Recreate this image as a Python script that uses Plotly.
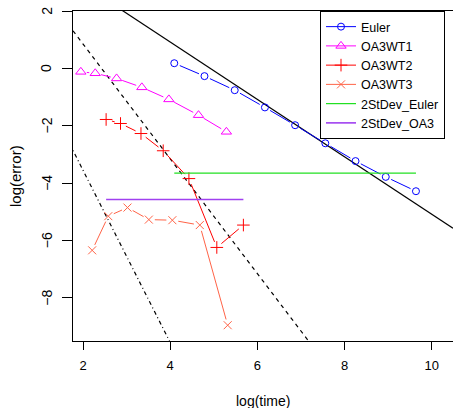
import math
import plotly.graph_objects as go

# ---- data ----
euler_x = [4.094, 4.787, 5.481, 6.174, 6.867, 7.560, 8.253, 8.947, 9.640]
euler_y = [0.18, -0.27, -0.76, -1.36, -1.98, -2.61, -3.23, -3.78, -4.28]

wt1_x = [1.95, 2.28, 2.77, 3.35, 3.97, 4.65, 5.29]
wt1_y = [-0.12, -0.17, -0.35, -0.66, -1.08, -1.63, -2.21]

wt2_x = [2.53, 2.86, 3.33, 3.84, 4.43, 5.07, 5.68]
wt2_y = [-1.78, -1.92, -2.27, -2.87, -3.84, -6.24, -5.46]

wt3_x = [2.21, 2.58, 3.02, 3.51, 4.05, 4.68, 5.32]
wt3_y = [-6.34, -5.15, -4.85, -5.27, -5.29, -5.46, -8.95]

sd_euler = -3.65
sd_oa3 = -4.57

# reference slopes (intercept, slope)
ref_lines = [(4.92, -1.0, "solid"), (4.85, -2.0, "4px,4px"), (2.45, -3.0, "1px,3px,4px,3px")]

x_ticks = [2, 4, 6, 8, 10]
y_ticks = [2, 0, -2, -4, -6, -8]

# ---- layout geometry ----
W, H = 453, 408
ML, MR, MT, MB = 73, 0, 11, 67
x_range = [1.77, 10.49]
y_range = [-9.5, 2.0]
PX = (W - ML - MR) / (x_range[1] - x_range[0])
PY = (H - MT - MB) / (y_range[1] - y_range[0])


def gapped(xs, ys, g=6.0):
    """Line segments between points, with gaps around points (R type='b')."""
    ox, oy = [], []
    for i in range(len(xs) - 1):
        dx, dy = xs[i + 1] - xs[i], ys[i + 1] - ys[i]
        L = math.hypot(dx * PX, dy * PY)
        if L > 2 * g:
            f = g / L
            ox += [xs[i] + dx * f, xs[i + 1] - dx * f, None]
            oy += [ys[i] + dy * f, ys[i + 1] - dy * f, None]
    return ox, oy


def isolated(vals):
    out = []
    for v in vals:
        out += [v, None]
    return out[:-1]


fig = go.Figure()

for b, m, dash in ref_lines:
    fig.add_trace(go.Scatter(
        x=x_range, y=[b + m * x_range[0], b + m * x_range[1]], mode="lines",
        line=dict(color="black", width=1.2, dash=dash), showlegend=False, hoverinfo="skip"))

series = [
    ("Euler", euler_x, euler_y, "blue", "circle-open", 7),
    ("OA3WT1", wt1_x, wt1_y, "magenta", "triangle-up-open", 9),
    ("OA3WT2", wt2_x, wt2_y, "red", "cross-thin-open", 9),
    ("OA3WT3", wt3_x, wt3_y, "tomato", "x-thin-open", 8),
]

for name, xs, ys, col, sym, sz in series:
    sx, sy = gapped(xs, ys)
    fig.add_trace(go.Scatter(x=sx, y=sy, mode="lines", line=dict(color=col, width=1),
                             showlegend=False, hoverinfo="skip"))
    fig.add_trace(go.Scatter(x=isolated(xs), y=isolated(ys), mode="lines+markers", name=name,
                             connectgaps=False,
                             line=dict(color=col, width=1),
                             marker=dict(symbol=sym, size=sz, color=col,
                                         line=dict(color=col, width=1))))

fig.add_trace(go.Scatter(x=[min(euler_x), max(euler_x)], y=[sd_euler, sd_euler], mode="lines",
                         name="2StDev_Euler", line=dict(color="#22e022", width=1.2)))
fig.add_trace(go.Scatter(x=[min(wt2_x), max(wt2_x)], y=[sd_oa3, sd_oa3], mode="lines",
                         name="2StDev_OA3", line=dict(color="#a040f0", width=1.6)))

FAM = "Liberation Sans, Arial, sans-serif"
font = dict(family=FAM, size=13, color="black")

annotations = [
    dict(text="log(time)", x=0.5, xref="paper", y=-(400.7 - 341) / 330, yref="paper",
         showarrow=False, xanchor="center", yanchor="middle", font=dict(family=FAM, size=14, color="black")),
    dict(text="log(error)", x=-(73 - 15) / 380, xref="paper", y=0.5, yref="paper",
         showarrow=False, textangle=-90, xanchor="center", yanchor="middle",
         font=dict(family=FAM, size=15, color="black")),
]
for t in y_ticks:
    annotations.append(dict(text=str(t).replace("-", "\u2212"), x=-(73 - 46.7) / 380, xref="paper",
                            y=(t - y_range[0]) / (y_range[1] - y_range[0]), yref="paper",
                            showarrow=False, textangle=-90.0,
                            xanchor="center", yanchor="middle",
                            font=dict(family=FAM, size=14, color="black")))

fig.update_layout(
    width=W, height=H, margin=dict(l=ML, r=MR, t=MT, b=MB),
    paper_bgcolor="white", plot_bgcolor="white", font=font,
    xaxis=dict(range=x_range, tickvals=x_ticks, ticks="outside", ticklen=8, tickcolor="black",
               showline=True, linecolor="black", linewidth=1, mirror=True,
               showgrid=False, zeroline=False, tickfont=font, ticklabelstandoff=4),
    yaxis=dict(range=y_range, tickvals=y_ticks, ticks="outside", ticklen=10, tickcolor="black",
               showline=True, linecolor="black", linewidth=1, showticklabels=False,
               showgrid=False, zeroline=False),
    legend=dict(x=(320 - ML) / (W - ML), y=1, xanchor="left", yanchor="top",
                bgcolor="white", bordercolor="black", borderwidth=1,
                font=dict(family=FAM, size=12.5, color="black")),
    annotations=annotations,
)

fig.write_html("out.html")
